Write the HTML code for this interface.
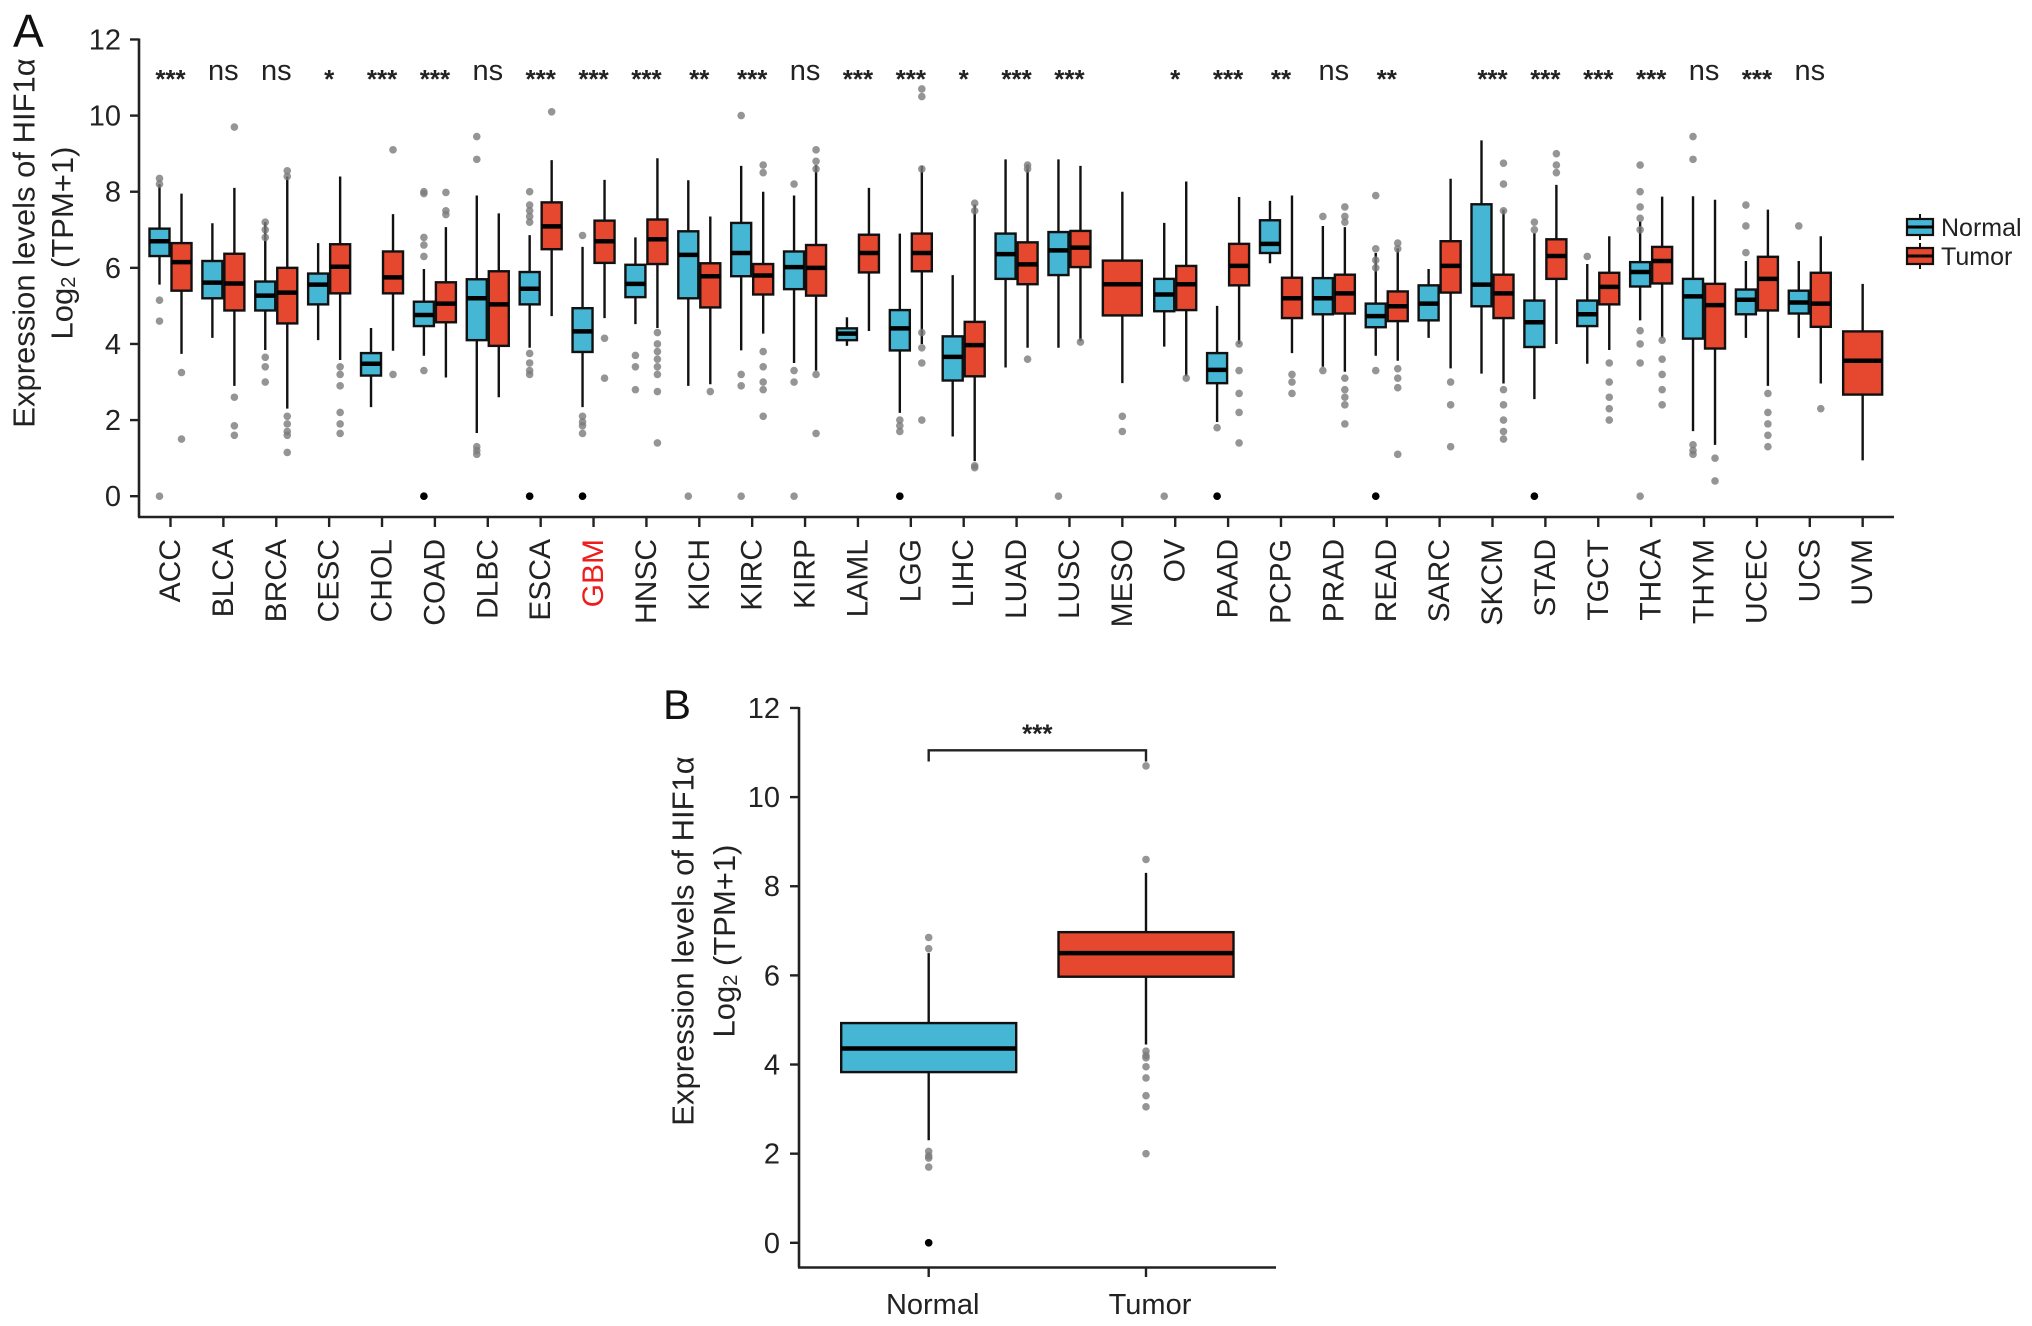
<!DOCTYPE html>
<html><head><meta charset="utf-8"><style>
html,body{margin:0;padding:0;background:#fff;}
svg{display:block;font-family:"Liberation Sans",Arial,sans-serif;}
</style></head><body>
<svg id="fig" width="2032" height="1326" viewBox="0 0 2032 1326" xmlns="http://www.w3.org/2000/svg"></svg>
<script>
// ---- Panel A data ----
const categories = ["ACC","BLCA","BRCA","CESC","CHOL","COAD","DLBC","ESCA","GBM","HNSC","KICH","KIRC","KIRP","LAML","LGG","LIHC","LUAD","LUSC","MESO","OV","PAAD","PCPG","PRAD","READ","SARC","SKCM","STAD","TGCT","THCA","THYM","UCEC","UCS","UVM"];
const significance = ["***","ns","ns","*","***","***","ns","***","***","***","**","***","ns","***","***","*","***","***","","*","***","**","ns","**","","***","***","***","***","ns","***","ns",""];
// [whiskerLow, q1, median, q3, whiskerHigh]
const normalStats = [
[5.56,6.31,6.7,7.03,8.2],[4.16,5.2,5.61,6.18,7.17],[3.84,4.88,5.27,5.64,7.2],[4.1,5.04,5.56,5.85,6.65],[2.34,3.17,3.48,3.76,4.42],
[3.69,4.47,4.76,5.11,5.97],[1.66,4.1,5.2,5.7,7.9],[3.9,5.04,5.45,5.89,6.86],[2.34,3.79,4.33,4.94,6.55],[4.52,5.23,5.58,6.08,6.8],
[2.9,5.2,6.34,6.96,8.3],[3.83,5.78,6.39,7.18,8.68],[3.5,5.44,6.02,6.43,7.9],[3.95,4.1,4.27,4.41,4.7],[2.19,3.83,4.41,4.89,6.9],
[1.57,3.04,3.66,4.2,5.81],[3.38,5.71,6.36,6.9,8.85],[3.9,5.81,6.46,6.94,8.85],null,[3.93,4.86,5.3,5.71,7.18],
[1.95,2.97,3.32,3.76,5.0],[6.12,6.39,6.63,7.25,7.76],[3.4,4.78,5.2,5.73,7.1],[3.69,4.44,4.73,5.06,6.39],[4.16,4.62,5.06,5.54,5.97],
[3.22,4.99,5.56,7.67,9.35],[2.55,3.92,4.57,5.14,6.91],[3.48,4.47,4.78,5.14,6.1],[4.62,5.51,5.89,6.15,7.22],[1.71,4.14,5.25,5.71,7.88],
[4.16,4.78,5.16,5.43,6.18],[4.16,4.8,5.09,5.4,6.18],null];
const tumorStats = [
[3.74,5.4,6.15,6.65,7.95],[2.9,4.88,5.59,6.37,8.1],[2.3,4.54,5.35,6.0,8.4],[3.58,5.33,6.03,6.62,8.4],[3.82,5.33,5.75,6.43,7.41],
[3.12,4.57,5.06,5.62,7.07],[2.6,3.95,5.04,5.91,7.43],[4.73,6.49,7.09,7.72,8.83],[4.68,6.13,6.7,7.24,8.31],[4.42,6.1,6.75,7.27,8.88],
[2.94,4.96,5.78,6.12,7.35],[4.27,5.3,5.8,6.1,8.0],[3.3,5.27,6.0,6.6,8.7],[4.34,5.88,6.39,6.87,8.1],[4.0,5.91,6.39,6.9,8.68],
[0.92,3.15,3.97,4.58,7.66],[3.9,5.57,6.09,6.67,8.72],[4.07,6.02,6.53,6.97,8.68],[2.97,4.75,5.57,6.19,8.0],[3.15,4.89,5.57,6.05,8.27],
[4.0,5.54,6.05,6.63,7.86],[3.76,4.68,5.2,5.74,7.9],[3.27,4.8,5.33,5.82,7.07],[3.56,4.6,4.99,5.38,6.51],[3.36,5.35,6.05,6.7,8.34],
[2.96,4.68,5.33,5.82,7.53],[4.0,5.71,6.31,6.75,8.18],[3.84,5.04,5.5,5.87,6.83],[4.16,5.59,6.18,6.55,7.87],[1.35,3.88,5.02,5.58,7.79],
[2.9,4.88,5.71,6.29,7.53],[2.96,4.45,5.06,5.87,6.83],[0.94,2.67,3.56,4.33,5.58]];
// repeated values = overplotted points (drawn darker)
const normalOutliers = [
[8.35,8.2,5.15,4.6,0],[],[7.2,7.0,6.8,3.65,3.4,3.0],[],[],
[8.0,7.95,6.8,6.6,6.3,3.3,0,0],[9.45,8.85,1.3,1.2,1.1],[8.0,7.65,7.5,7.35,7.2,3.75,3.5,3.3,3.2,0,0],[6.85,2.1,1.95,1.85,1.65,0,0],[3.7,3.4,2.8],
[0],[10.0,3.2,2.9,0],[8.2,3.3,3.0,0],[],[2.0,1.85,1.7,0,0],
[],[],[0],[],[0],
[1.8,0,0],[],[7.35,3.3],[7.9,6.5,6.2,6.0,3.3,0,0],[],
[],[7.2,7.0,0,0],[6.3],[8.7,8.0,7.6,7.3,7.0,4.35,4.0,3.5,0],[9.45,8.85,1.35,1.2,1.1],
[7.65,7.1,6.4],[7.1],[]];
const tumorOutliers = [
[3.25,1.5],[9.7,2.6,1.85,1.6],[8.55,8.4,2.1,1.9,1.7,1.6,1.15],[3.4,3.2,2.9,2.2,1.9,1.65],[9.1,3.2],
[7.98,7.5,7.4],[],[10.1],[4.15,3.1],[4.3,4.0,3.8,3.6,3.4,3.2,2.75,1.4],
[2.75],[8.7,8.5,3.8,3.4,3.0,2.8,2.1],[9.1,8.8,8.6,3.2,1.65],[],[10.7,10.5,8.6,4.3,3.9,3.5,2.0],
[7.7,7.5,0.8,0.75],[8.7,8.6,3.6],[4.05],[2.1,1.7],[3.1],
[4.0,3.3,2.7,2.2,1.4],[3.2,3.0,2.7],[7.6,7.35,7.2,3.1,2.8,2.6,2.4,1.9],[6.65,6.5,3.35,3.1,2.85,1.1],[3.0,2.4,1.3],
[8.75,8.2,7.5,2.8,2.4,2.0,1.7,1.5],[9.0,8.7,8.5],[3.5,3.0,2.6,2.3,2.0],[4.1,3.6,3.2,2.8,2.4],[1.0,0.4],
[2.7,2.2,1.9,1.6,1.3],[2.3],[]];
const yTicksA = [0,2,4,6,8,10,12];
// ---- Panel B data ----
const groupsB = ["Normal","Tumor"];
const statsB = [[2.3,3.83,4.36,4.93,6.5],[4.45,5.97,6.5,6.97,8.3]];
const outliersB = [[6.85,6.6,2.05,1.95,1.9,1.7,0,0],[10.7,8.6,4.3,4.2,4.15,3.95,3.7,3.3,3.05,2.0]];
const yTicksB = [0,2,4,6,8,10,12];
const sigB = "***";

const BLUE="#45b6d3", RED="#e5472f";
const NS="http://www.w3.org/2000/svg";
const svg=document.getElementById('fig');
function mk(tag,attrs,parent){const e=document.createElementNS(NS,tag);for(const k in attrs)e.setAttribute(k,attrs[k]);(parent||svg).appendChild(e);return e;}
function txt(s,attrs,parent){const e=mk('text',attrs,parent);e.textContent=s;return e;}

const yA=v=>496.2-v*38.06;
const xA=i=>170.5+i*52.88;
const yB=v=>1242.8-v*44.57;
const xB=i=>928.7+i*217.3;

function drawBox(g,cx,w,s,color,yf,outs,name){
  const bg=mk('g',{},g);
  
  
  mk('line',{x1:cx,x2:cx,y1:yf(s[4]),y2:yf(s[0]),stroke:'#111','stroke-width':2.4},bg);
  mk('rect',{x:cx-w/2,y:yf(s[3]),width:w,height:yf(s[1])-yf(s[3]),fill:color,stroke:'#111','stroke-width':2.4},bg);
  mk('line',{x1:cx-w/2,x2:cx+w/2,y1:yf(s[2]),y2:yf(s[2]),stroke:'#000','stroke-width':4.5},bg);
  outs.forEach((o,k)=>{
    const dup=outs.indexOf(o)!==k;
    const c=mk('circle',{cx:cx,cy:yf(o),r:3.8,fill:dup?'#000':'#7a7a7a','fill-opacity':dup?1:0.8},bg);
    
    
  });
}

// ---- Panel A ----
const gA=mk('g',{});


txt('A',{x:13,y:47,'font-size':46,fill:'#111',},gA);
mk('line',{x1:139,x2:139,y1:yA(12)-1,y2:517,stroke:'#222','stroke-width':2.6,},gA);
mk('line',{x1:138,x2:1894,y1:517,y2:517,stroke:'#222','stroke-width':2.6,},gA);
yTicksA.forEach(t=>{
  mk('line',{x1:130,x2:139,y1:yA(t),y2:yA(t),stroke:'#222','stroke-width':2.4},gA);
  const l=txt(String(t),{x:121,y:yA(t)+10,'text-anchor':'end','font-size':29,fill:'#222'},gA);
  
  
});
txt('Expression levels of HIF1\u03B1',{transform:'translate(24,243) rotate(-90)','text-anchor':'middle','dominant-baseline':'central','font-size':31,fill:'#222',},gA);
const yt2=mk('text',{transform:'translate(62,243) rotate(-90)','text-anchor':'middle','dominant-baseline':'central','font-size':31,fill:'#222',},gA);
yt2.innerHTML='Log<tspan font-size="20" dy="7">2</tspan><tspan dy="-7"> (TPM+1)</tspan>';

categories.forEach((c,i)=>{
  const x=xA(i);
  mk('line',{x1:x,x2:x,y1:517,y2:527,stroke:'#222','stroke-width':2.4},gA);
  const l=txt(c,{transform:`translate(${x},539) rotate(-90)`,'text-anchor':'end','dominant-baseline':'central','font-size':30,fill:c==='GBM'?'#ee1c1c':'#222'},gA);
  
  
  if(significance[i]){
    const isNs=significance[i]==='ns';
    const s=txt(significance[i],{x:x,y:isNs?80:88,'text-anchor':'middle','font-size':isNs?29:26,'font-weight':isNs?'normal':'bold',fill:'#222'},gA);
    
    
  }
  const n=normalStats[i], t=tumorStats[i];
  if(n&&t){
    drawBox(gA,x-11,20,n,BLUE,yA,normalOutliers[i],'box-normal-'+c.toLowerCase());
    drawBox(gA,x+11,20,t,RED,yA,tumorOutliers[i],'box-tumor-'+c.toLowerCase());
  } else if(t){
    drawBox(gA,x,39,t,RED,yA,tumorOutliers[i],'box-tumor-'+c.toLowerCase());
  }
});
// legend
const lg=mk('g',{});


[["Normal",BLUE,227],["Tumor",RED,256]].forEach(([lab,col,y])=>{
  const e=mk('g',{},lg);
  
  
  mk('line',{x1:1920,x2:1920,y1:y-13,y2:y+13,stroke:'#111','stroke-width':2},e);
  mk('rect',{x:1907,y:y-8,width:26,height:16,fill:col,stroke:'#111','stroke-width':2.2},e);
  mk('line',{x1:1907,x2:1933,y1:y,y2:y,stroke:'#000','stroke-width':3},e);
  txt(lab,{x:1941,y:y+9,'font-size':25,fill:'#222'},e);
});

// ---- Panel B ----
const gB=mk('g',{});


txt('B',{x:663,y:719,'font-size':42,fill:'#111',},gB);
mk('line',{x1:799,x2:799,y1:yB(12)-1,y2:1267.5,stroke:'#222','stroke-width':2.6,},gB);
mk('line',{x1:798,x2:1276,y1:1267.5,y2:1267.5,stroke:'#222','stroke-width':2.6,},gB);
yTicksB.forEach(t=>{
  mk('line',{x1:790,x2:799,y1:yB(t),y2:yB(t),stroke:'#222','stroke-width':2.4},gB);
  const l=txt(String(t),{x:780,y:yB(t)+10,'text-anchor':'end','font-size':29,fill:'#222'},gB);
  
  
});
txt('Expression levels of HIF1\u03B1',{transform:'translate(683,941) rotate(-90)','text-anchor':'middle','dominant-baseline':'central','font-size':31,fill:'#222',},gB);
const ybt=mk('text',{transform:'translate(724,941) rotate(-90)','text-anchor':'middle','dominant-baseline':'central','font-size':31,fill:'#222',},gB);
ybt.innerHTML='Log<tspan font-size="20" dy="7">2</tspan><tspan dy="-7"> (TPM+1)</tspan>';
groupsB.forEach((g,i)=>{
  const x=xB(i);
  mk('line',{x1:x,x2:x,y1:1267.5,y2:1277,stroke:'#222','stroke-width':2.4},gB);
  const l=txt(g,{x:x+4,y:1314,'text-anchor':'middle','font-size':29,fill:'#222'},gB);
  
  
  drawBox(gB,x,175,statsB[i],i===0?BLUE:RED,yB,outliersB[i],'box-'+g.toLowerCase()+'-b');
});
const br=mk('path',{d:`M${xB(0)},${yB(10.8)} V${yB(11.05)} H${xB(1)} V${yB(10.8)}`,fill:'none',stroke:'#222','stroke-width':2.4},gB);


txt(sigB,{x:(xB(0)+xB(1))/2,y:yB(11.05)-8,'text-anchor':'middle','font-size':26,'font-weight':'bold',fill:'#222',},gB);
</script>
</body></html>
